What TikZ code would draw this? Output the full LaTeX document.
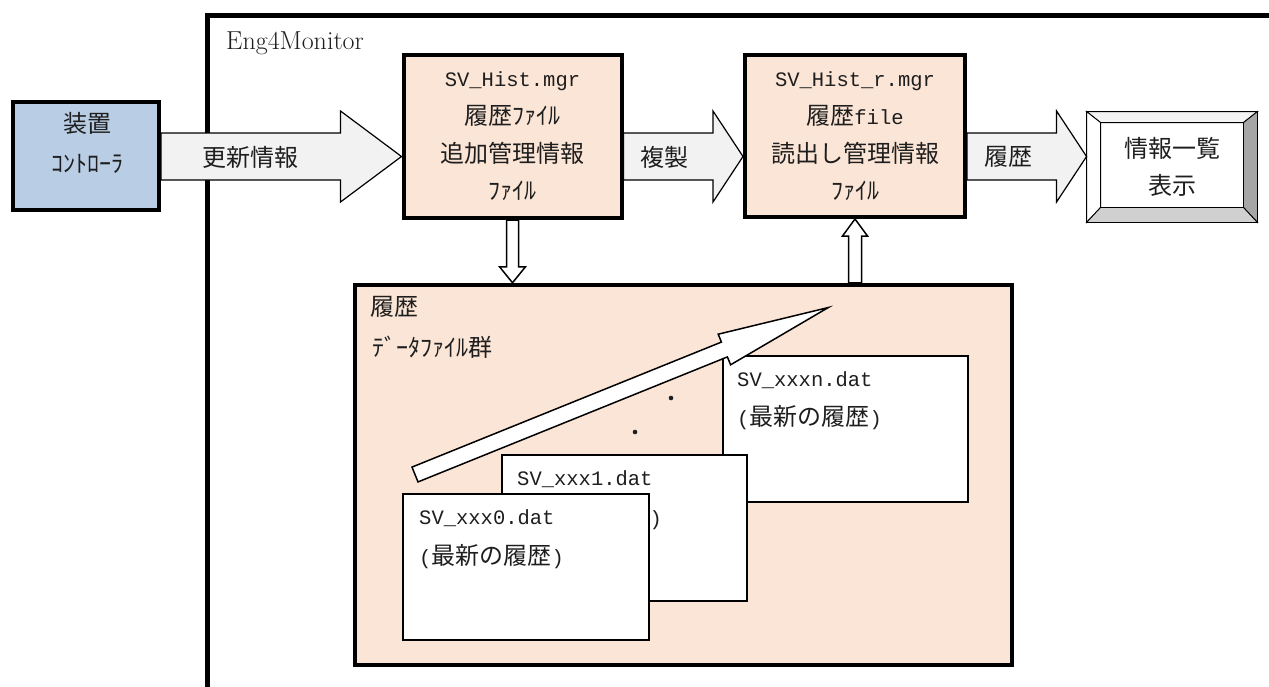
\documentclass[tikz,border=0pt]{standalone}
\usepackage{fontspec}
\usetikzlibrary{calc}
\newfontfamily\jp{Noto Sans CJK JP}
\newfontfamily\mono{Liberation Mono}
\definecolor{peach}{HTML}{FBE5D6}
\definecolor{steel}{HTML}{B9CDE5}
\definecolor{arrowgrey}{HTML}{F2F2F2}
\definecolor{ink}{HTML}{1E1E1E}
\definecolor{bevelR}{HTML}{A6A6A6}
\definecolor{bevelB}{HTML}{D0D0D0}
\definecolor{bevelT}{HTML}{F4F4F4}
% file names in a narrow monospace
\newcommand\mgrname[1]{{\mono\fontsize{20.5}{37.7}\selectfont #1}}
% grey block arrow between two nodes along the row coordinate
\newcommand\flowarrow[3]{%
  \draw[bigarrow] ($(#1|-row)+(0,-23.5)$) -- ($(#2|-row)+(-#3,-23.5)$)
    -- ($(#2|-row)+(-#3,-45.5)$) -- (#2|-row) -- ($(#2|-row)+(-#3,45.5)$)
    -- ($(#2|-row)+(-#3,23.5)$) -- ($(#1|-row)+(0,23.5)$) -- cycle;}
\begin{document}
\begin{tikzpicture}[x=1pt,y=-1pt,
  every node/.style={inner sep=0pt, text=ink},
  jptext/.style={font=\jp\fontsize{24}{30}\selectfont},
  devbox/.style={draw, line width=4pt, fill=steel, minimum width=146.5, minimum height=108},
  mgrbox/.style={draw, line width=4pt, fill=peach, minimum width=218, minimum height=163},
  groupbox/.style={draw, line width=4.5pt, fill=peach, minimum width=657, minimum height=380},
  datbox/.style={draw, line width=1.5pt, fill=white, minimum width=245, minimum height=146},
  bigarrow/.style={draw=black, line width=1.2pt, fill=arrowgrey, line join=miter},
  hollowarrow/.style={draw=black, line width=1.5pt, fill=white, line join=miter},
  bevel/.style={draw=black, line width=0.9pt, line join=miter}]
\useasboundingbox (0,0) rectangle (1269,686);

% monitor frame (open towards the right and bottom)
\draw[line width=5pt, line join=miter] (207.5,690) -- (207.5,15.5) -- (1275,15.5);
\node[font=\fontsize{26}{30}\selectfont, anchor=base west] (mon) at (226,49) {Eng4Monitor};

% controller
\node[devbox] (dev) at (85.75,155.5) {};
\node[font=\jp\fontsize{24}{40}\selectfont, align=center] (devtxt) at (87,143) {装置\\ｺﾝﾄﾛｰﾗ};

% management files
\node[mgrbox] (mgr) at (512.5,136.5) {};
\node[font=\jp\fontsize{24}{37.7}\selectfont, align=center] (mgrtxt) at (512.5,136.5)
  {\mgrname{SV\_Hist.mgr}\\履歴ﾌｧｲﾙ\\追加管理情報\\ﾌｧｲﾙ};
\node[mgrbox, minimum width=220, minimum height=162] (mgrr) at (855,136) {};
\node[font=\jp\fontsize{24}{37.7}\selectfont, align=center] (mgrrtxt) at (855,136.5)
  {\mgrname{SV\_Hist\_r.mgr}\\履歴\mgrname{file}\\読出し管理情報\\ﾌｧｲﾙ};

% list view with bevelled border
\node[draw, line width=0.9pt, fill=white, minimum width=170, minimum height=110] (view) at (1172,167) {};
\coordinate (vnw) at ($(view.north west)+(14,11)$);
\coordinate (vne) at ($(view.north east)+(-14,11)$);
\coordinate (vse) at ($(view.south east)+(-14,-15)$);
\coordinate (vsw) at ($(view.south west)+(14,-15)$);
\draw[bevel, fill=bevelT] (view.north west) -- (view.north east) -- (vne) -- (vnw) -- cycle;
\draw[bevel, fill=white] (view.north west) -- (vnw) -- (vsw) -- (view.south west) -- cycle;
\draw[bevel, fill=bevelR] (view.north east) -- (view.south east) -- (vse) -- (vne) -- cycle;
\draw[bevel, fill=bevelB] (view.south west) -- (vsw) -- (vse) -- (view.south east) -- cycle;
\node[font=\jp\fontsize{24}{37}\selectfont, align=center] (viewtxt) at (1172,166.5) {情報一覧\\表示};

% history data file group
\node[groupbox] (grp) at (683.5,475) {};
\node[jptext, anchor=west] (grptitle) at (370,307) {履歴};
\node[jptext, anchor=west] (grpsub) at (372,347) {ﾃﾞｰﾀﾌｧｲﾙ群};

\node[datbox] (datn) at (845.5,429) {};
\node[jptext, anchor=west] (datnname) at (737,380) {\mgrname{SV\_xxxn.dat}};
\node[jptext, anchor=west] (datnnote) at (737,418) {\mgrname{(}最新の履歴\mgrname{)}};

\fill[ink] (671,398) circle (2.3) (635,432) circle (2.3);

\node[datbox] (dat1) at (624.5,528) {};
\node[jptext, anchor=west] (dat1name) at (517,479) {\mgrname{SV\_xxx1.dat}};
\node[jptext, anchor=west] (dat1note) at (517,518) {\mgrname{(}最新の履歴\mgrname{)}};

\node[datbox, minimum width=246] (dat0) at (526,567) {};
\node[jptext, anchor=west] (dat0name) at (419,518) {\mgrname{SV\_xxx0.dat}};
\node[jptext, anchor=west] (dat0note) at (419,557) {\mgrname{(}最新の履歴\mgrname{)}};

% ordering arrow from oldest to newest file
\coordinate (trend) at (415,474.5);
\begin{scope}[shift={(trend)}, rotate=22]
  \draw[hollowarrow] (0,-8) -- (333.7,-8) -- (333.7,-16.5) -- (445.7,0)
    -- (333.7,16.5) -- (333.7,8) -- (0,8) -- cycle;
\end{scope}

% data flow along the top row
\coordinate (row) at (0,156.5);
\flowarrow{dev.east}{mgr.west}{61}
\flowarrow{mgr.east}{mgrr.west}{30}
\flowarrow{mgrr.east}{view.west}{30}
\node[jptext] (upd) at (250.5,157) {更新情報};
\node[jptext] (copy) at (664,157) {複製};
\node[jptext] (hist) at (1008,157) {履歴};

% write into and read from the file group
\draw[hollowarrow] ($(mgr.south)+(-6,0)$) -- ($(mgr.south|-grp.north)+(-6,-16)$)
  -- ($(mgr.south|-grp.north)+(-13,-16)$) -- (mgr.south|-grp.north)
  -- ($(mgr.south|-grp.north)+(13,-16)$) -- ($(mgr.south|-grp.north)+(6,-16)$)
  -- ($(mgr.south)+(6,0)$) -- cycle;
\draw[hollowarrow] ($(mgrr.south|-grp.north)+(-6.5,0)$) -- ($(mgrr.south)+(-6.5,17)$)
  -- ($(mgrr.south)+(-12.5,17)$) -- (mgrr.south)
  -- ($(mgrr.south)+(12.5,17)$) -- ($(mgrr.south)+(6.5,17)$)
  -- ($(mgrr.south|-grp.north)+(6.5,0)$) -- cycle;
\end{tikzpicture}
\end{document}
